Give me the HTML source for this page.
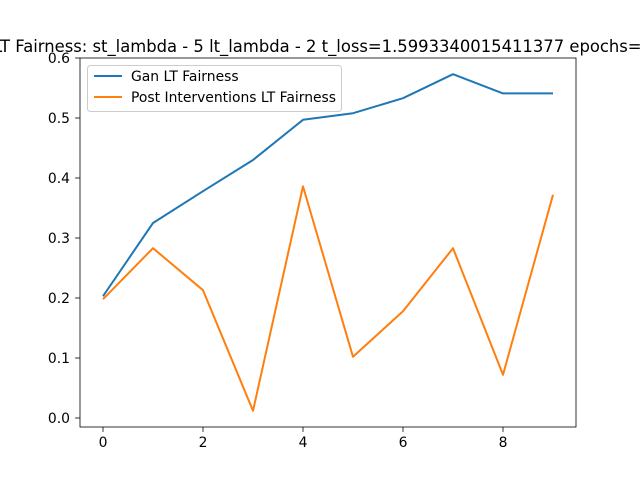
<!DOCTYPE html>
<html><head><meta charset="utf-8"><style>
body{margin:0;background:#fff}
svg{display:block;font-family:"DejaVu Sans","Liberation Sans",sans-serif}
</style></head><body>
<svg id="chart" width="640" height="480" xmlns="http://www.w3.org/2000/svg">
<rect width="640" height="480" fill="#fff"/>
<text x="333" y="52" font-size="16.4" text-anchor="middle" fill="#000">LT Fairness: st_lambda - 5 lt_lambda - 2 t_loss=1.5993340015411377 epochs=100</text>
<g id="axes"></g>
</svg>
<script>
const xValues=[0,1,2,3,4,5,6,7,8,9];
const ganValues=[0.203,0.325,0.378,0.430,0.497,0.508,0.533,0.573,0.541,0.541];
const postValues=[0.198,0.283,0.213,0.012,0.386,0.102,0.178,0.283,0.072,0.372];
const xTicks=[0,2,4,6,8];
const yTicks=[0.0,0.1,0.2,0.3,0.4,0.5,0.6];
const seriesNames=["Gan LT Fairness","Post Interventions LT Fairness"];

const L=80,R=576,T=58,B=427;
const xs=v=>103+(v-0)*(553-103)/9;
const ys=v=>418-v*600;
const ns="http://www.w3.org/2000/svg";
const g=document.getElementById('axes');
function mk(tag,attrs){const e=document.createElementNS(ns,tag);for(const k in attrs)e.setAttribute(k,attrs[k]);g.appendChild(e);return e;}

const frame=mk('rect',{x:L,y:T,width:R-L,height:B-T,fill:'none',stroke:'#000','stroke-width':0.8});



xTicks.forEach(t=>{
  const x=xs(t);
  const tk=mk('line',{x1:x,y1:B,x2:x,y2:B+4.9,stroke:'#000','stroke-width':0.8});
  
  
  const lb=mk('text',{x:x,y:B+20,'font-size':13.9,'text-anchor':'middle'});
  lb.textContent=t;
  
  
});
yTicks.forEach(t=>{
  const y=ys(t);
  const tk=mk('line',{x1:L-4.9,y1:y,x2:L,y2:y,stroke:'#000','stroke-width':0.8});
  
  
  const lb=mk('text',{x:L-10,y:y+5,'font-size':13.9,'text-anchor':'end'});
  lb.textContent=t.toFixed(1);
  
  
});

function line(vals,color,name){
  const p=mk('polyline',{points:vals.map((v,i)=>xs(xValues[i])+','+ys(v)).join(' '),fill:'none',stroke:color,'stroke-width':2,'stroke-linejoin':'round'});
  
  
}
line(ganValues,'#1f77b4','gan-lt-fairness-line');
line(postValues,'#ff7f0e','post-interventions-line');

const lg=mk('rect',{x:87.5,y:65.5,width:254,height:46,rx:3,fill:'#fff','fill-opacity':0.8,stroke:'#ccc','stroke-width':1});


const colors=['#1f77b4','#ff7f0e'];
seriesNames.forEach((n,i)=>{
  const y=76+i*21;
  const l=mk('line',{x1:94,y1:y,x2:122,y2:y,stroke:colors[i],'stroke-width':2});
  
  
  const t=mk('text',{x:131,y:y+5,'font-size':13.9});
  t.textContent=n;
  
  
});
</script>
</body></html>
